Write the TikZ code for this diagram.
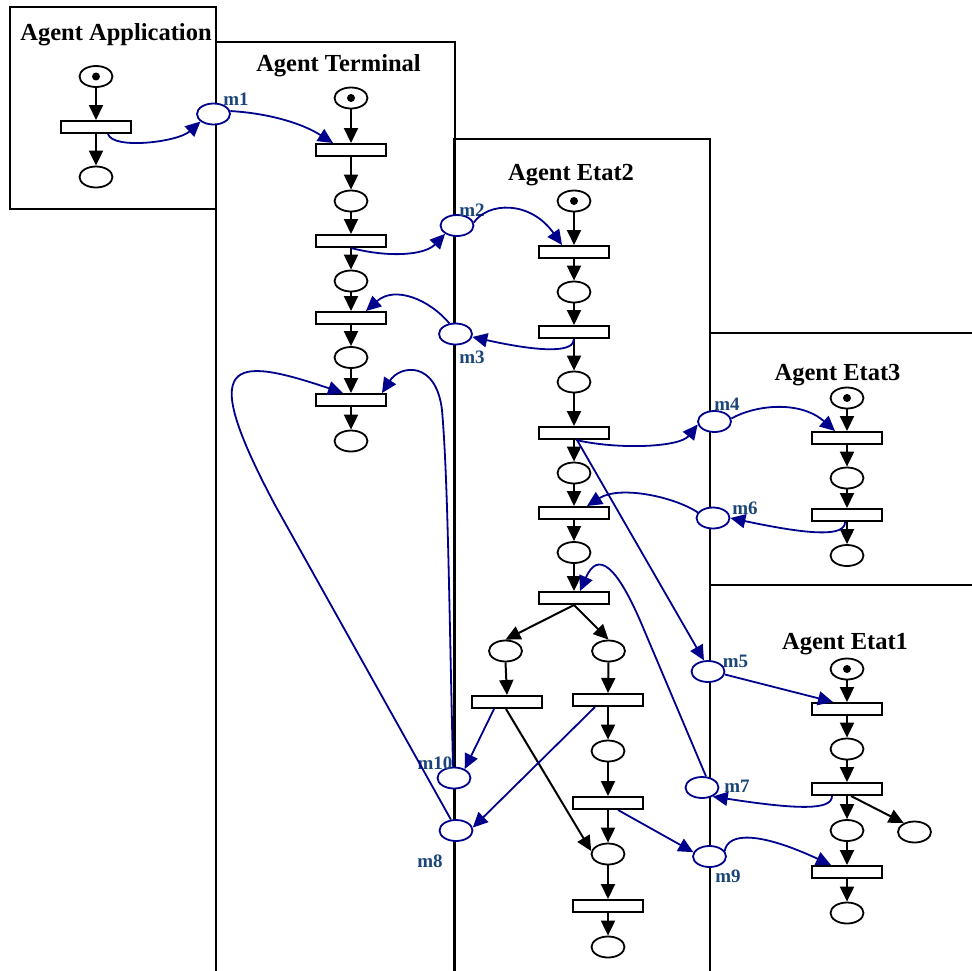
\documentclass[tikz,border=0pt]{standalone}
\usepackage{fontspec}
\setmainfont{Liberation Serif}
\usetikzlibrary{shapes.geometric,arrows.meta,calc}
\definecolor{msgblue}{RGB}{0,0,140}
\definecolor{lblblue}{RGB}{28,70,120}
\begin{document}
\begin{tikzpicture}[x=1pt,y=-1pt,
  place/.style={ellipse,draw,fill=white,line width=1.8pt,minimum width=33pt,minimum height=21pt,inner sep=0pt},
  mplace/.style={place,draw=msgblue},
  token/.style={place,path picture={\fill[black] (path picture bounding box.center) circle (4pt);}},
  trans/.style={rectangle,draw,fill=white,line width=2pt,minimum width=70pt,minimum height=12pt,inner sep=0pt},
  agent/.style={draw,line width=2pt},
  title/.style={font=\fontsize{24.5}{28}\selectfont\bfseries,anchor=base,inner sep=0pt},
  mlabel/.style={font=\fontsize{19}{22}\selectfont\bfseries,text=lblblue,inner sep=0pt},
  arc/.style={line width=2pt,-{Triangle[width=14pt,length=15pt]}},
  msg/.style={msgblue,line width=1.8pt,-{Triangle[width=14pt,length=15pt]}}
]
\useasboundingbox (0,0) rectangle (972,970);
\clip (0,0) rectangle (972,970);

% agent boxes
\draw[agent] (10,7) rectangle (215.5,209);
\draw[agent] (215.5,42) rectangle (455,990);
\draw[agent] (454,139) rectangle (710,990);
\draw[agent] (710,333) rectangle (990,585);
\draw[agent] (710,585) rectangle (990,990);

% titles
\node[title] (tApp) at (116,40) {Agent Application};
\node[title] (tTer) at (338.5,71.7) {Agent Terminal};
\node[title] (tE2) at (571,180) {Agent Etat2};
\node[title] (tE3) at (837.5,380) {Agent Etat3};
\node[title] (tE1) at (845,649) {Agent Etat1};

% Agent Application
\node[token] (aP1) at (96,76.5) {};
\node[trans] (aT1) at (96,127) {};
\node[place] (aP2) at (96,177) {};

% Agent Terminal
\node[token] (tP1) at (351,98) {};
\node[trans] (tT1) at (351,150) {};
\node[place] (tP2) at (351,201) {};
\node[trans] (tT2) at (351,241) {};
\node[place] (tP3) at (351,281) {};
\node[trans] (tT3) at (351,318) {};
\node[place] (tP4) at (351,357.5) {};
\node[trans] (tT4) at (351,400) {};
\node[place] (tP5) at (351,441) {};

% Agent Etat2
\node[token] (eP1) at (574,201) {};
\node[trans] (eT1) at (574,252) {};
\node[place] (eP2) at (574,292) {};
\node[trans] (eT2) at (574,332) {};
\node[place] (eP3) at (574,382) {};
\node[trans] (eT3) at (574,433) {};
\node[place] (eP4) at (574,473) {};
\node[trans] (eT4) at (574,513) {};
\node[place] (eP5) at (574,552.5) {};
\node[trans] (eT5) at (574,598) {};
\node[place] (eL1) at (505.5,651) {};
\node[place] (eR1) at (608.5,651) {};
\node[trans] (eLT) at (507,702) {};
\node[trans] (eRT) at (608,700) {};
\node[place] (eR2) at (608,751) {};
\node[trans] (eRT2) at (608,803) {};
\node[place] (eR3) at (608,854) {};
\node[trans] (eRT3) at (608,906) {};
\node[place] (eR4) at (608,947) {};

% Agent Etat3
\node[token] (fP1) at (847,398) {};
\node[trans] (fT1) at (847,438) {};
\node[place] (fP2) at (847,478) {};
\node[trans] (fT2) at (847,515) {};
\node[place] (fP3) at (847,555.5) {};

% Agent Etat1
\node[token] (gP1) at (847,669) {};
\node[trans] (gT1) at (847,709) {};
\node[place] (gP2) at (847,749) {};
\node[trans] (gT2) at (847,789) {};
\node[place] (gP3) at (847,830.5) {};
\node[place] (gS) at (914.5,832) {};
\node[trans] (gT3) at (847,872) {};
\node[place] (gP4) at (847,913) {};

% message places
\node[mplace] (m1) at (213.5,114) {};
\node[mplace] (m2) at (457,225.5) {};
\node[mplace] (m3) at (455.5,334) {};
\node[mplace] (m4) at (714.5,421.5) {};
\node[mplace] (m5) at (708,671.5) {};
\node[mplace] (m6) at (713,518) {};
\node[mplace] (m7) at (702,787.5) {};
\node[mplace] (m8) at (456,830.5) {};
\node[mplace] (m9) at (709.5,856.5) {};
\node[mplace] (m10) at (454,778) {};

% message labels
\node[mlabel] (lm1) at (236,99.3) {m1};
\node[mlabel] (lm2) at (472,210.5) {m2};
\node[mlabel] (lm3) at (472,357.5) {m3};
\node[mlabel] (lm4) at (727,404) {m4};
\node[mlabel] (lm5) at (735.5,661) {m5};
\node[mlabel] (lm6) at (745,508.5) {m6};
\node[mlabel] (lm7) at (737,786) {m7};
\node[mlabel] (lm8) at (430,861) {m8};
\node[mlabel] (lm9) at (728,876) {m9};
\node[mlabel] (lm10) at (435,763) {m10};

% black arcs
\foreach \a/\b in {aP1/aT1,aT1/aP2,
  tP1/tT1,tT1/tP2,tP2/tT2,tT2/tP3,tP3/tT3,tT3/tP4,tP4/tT4,tT4/tP5,
  eP1/eT1,eT1/eP2,eP2/eT2,eT2/eP3,eP3/eT3,eT3/eP4,eP4/eT4,eT4/eP5,eP5/eT5,
  eT5/eL1,eT5/eR1,eL1/eLT,eR1/eRT,eRT/eR2,eR2/eRT2,eRT2/eR3,eR3/eRT3,eRT3/eR4,
  fP1/fT1,fT1/fP2,fP2/fT2,fT2/fP3,
  gP1/gT1,gT1/gP2,gP2/gT2,gT2/gP3,gP3/gT3,gT3/gP4}
  \draw[arc] (\a.south) -- (\b.north);
\draw[arc] ($(eLT.south)+(-1,0)$) -- (eR3.170);
\draw[arc] ($(gT2.south)+(4,0)$) -- (gS.140);

% message arcs
\draw[msg] ($(aT1.south)+(12,0)$) .. controls (113,150) and (178,142) .. (m1.210);
\draw[msg] (m1.10) .. controls (265,113) and (300,122) .. ($(tT1.north)+(-18,0)$);
\draw[msg] (tT2.south) .. controls (390,258) and (425,255) .. (m2.215);
\draw[msg] (m2.10) .. controls (488,202) and (530,200) .. ($(eT1.north)+(-12,0)$);
\draw[msg] (eT2.south) .. controls (574,352) and (545,353) .. (m3.350);
\draw[msg] (m3.120) .. controls (430,300) and (395,285) .. ($(tT3.north)+(15,0)$);
\draw[msg] (m10.95) .. controls (449,600) and (448,480) .. (442,410) .. controls (436,360) and (400,365) .. ($(tT4.north east)+(-5,0)$);
\draw[msg] (m8.115) -- (275,505) .. controls (197,358) and (230,355) .. ($(tT4.north)+(-8,0)$);
\draw[msg] ($(eT3.south)+(2,0)$) .. controls (620,450) and (680,447) .. (m4.190);
\draw[msg] (m4.10) .. controls (755,405) and (800,400) .. ($(fT1.north)+(-12,0)$);
\draw[msg] ($(fT2.south)+(-2,0)$) .. controls (845,536) and (815,536) .. (m6.east);
\draw[msg] (m6.160) .. controls (675,497) and (620,485) .. ($(eT4.north)+(13,0)$);
\draw[msg] ($(eT3.south)+(3,0)$) -- (m5.110);
\draw[msg] (m5.350) -- ($(gT1.north)+(-14,0)$);
\draw[msg] ($(gT2.south)+(-15,0)$) .. controls (832,810) and (800,810) .. (m7.-40);
\draw[msg] (m7.70) -- (642,625) .. controls (617,566) and (598,550) .. ($(eT5.north)+(6,0)$);
\draw[msg] ($(eLT.south)+(-13,0)$) -- (m10.40);
\draw[msg] ($(eRT.south)+(-13,0)$) -- (m8.10);
\draw[msg] ($(eRT2.south)+(10,0)$) -- (m9.165);
\draw[msg] (m9.20) .. controls (728,832) and (760,832) .. ($(gT3.north)+(-16,0)$);
\end{tikzpicture}
\end{document}
